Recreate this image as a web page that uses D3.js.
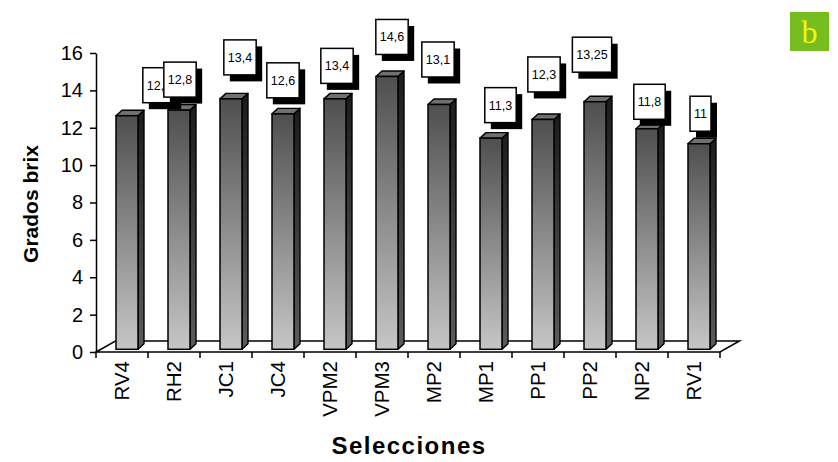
<!DOCTYPE html>
<html>
<head>
<meta charset="utf-8">
<script src="https://cdn.jsdelivr.net/npm/d3@7"></script>
<style>
  html, body { margin: 0; padding: 0; background: #fff; }
  svg { display: block; }
  text { font-family: "Liberation Sans", Arial, sans-serif; fill: #000; }
</style>
</head>
<body>
<svg id="chart" width="838" height="462"></svg>
<script>
// Grados brix por selección
const categories = ["RV4", "RH2", "JC1", "JC4", "VPM2", "VPM3", "MP2", "MP1", "PP1", "PP2", "NP2", "RV1"];
const brix = [12.5, 12.8, 13.4, 12.6, 13.4, 14.6, 13.1, 11.3, 12.3, 13.25, 11.8, 11];
const yTicks = [0, 2, 4, 6, 8, 10, 12, 14, 16];

// Hand placement of each value label: [shift right from bar centre, gap above bar top]
const labelNudge = [[32, 13], [1, 13], [9, 24], [0, 16], [2, 15.5], [5, 22], [-1, 27.5], [9.5, 15.5], [1, 27.5], [-3, 29.5], [2.5, 9.5], [1.5, 12.5]];

const svg = d3.select("#chart");

const x = d3.scaleBand().domain(categories).range([96, 720]).paddingInner(0).paddingOuter(0);
const y = d3.scaleLinear().domain([0, 16]).range([352, 53]);

// 3-D geometry
const floorDepth = { dx: 19.5, dy: -11 };   // floor front edge -> back edge
const barPlane = { dx: 4, dy: -2.7 };        // front face of the columns
const barDepth = { dx: 6, dy: -5.5 };        // column thickness
const barW = 22;

// gradients
const defs = svg.append("defs");
const gFront = defs.append("linearGradient").attr("id", "gFront").attr("x1", 0).attr("y1", 0).attr("x2", 0).attr("y2", 1);
gFront.append("stop").attr("offset", "0%").attr("stop-color", "#4f4f4f");
gFront.append("stop").attr("offset", "100%").attr("stop-color", "#c6c6c6");
const gSide = defs.append("linearGradient").attr("id", "gSide").attr("x1", 0).attr("y1", 0).attr("x2", 0).attr("y2", 1);
gSide.append("stop").attr("offset", "0%").attr("stop-color", "#1c1c1c");
gSide.append("stop").attr("offset", "100%").attr("stop-color", "#5c5c5c");

// floor
const fx0 = x.range()[0], fx1 = x.range()[1], fy = y(0);
svg.append("path")
  .attr("d", `M${fx0},${fy} L${fx0 + floorDepth.dx},${fy + floorDepth.dy} L${fx1 + floorDepth.dx},${fy + floorDepth.dy} L${fx1},${fy} Z`)
  .attr("fill", "#fff").attr("stroke", "#000").attr("stroke-width", 1.5).attr("stroke-linejoin", "miter");

// columns
const bars = svg.append("g").selectAll("g").data(categories).join("g");
bars.each(function (c, i) {
  const g = d3.select(this);
  const x0 = x(c) + (x.bandwidth() - barW) / 2 + 1 + barPlane.dx;
  const x1 = x0 + barW;
  const top = y(brix[i]) + barPlane.dy;
  const bot = y(0) + barPlane.dy;
  const ddx = barDepth.dx, ddy = barDepth.dy;
  g.append("path")
    .attr("d", `M${x1},${top} L${x1 + ddx},${top + ddy} L${x1 + ddx},${bot + ddy} L${x1},${bot} Z`)
    .attr("fill", "url(#gSide)").attr("stroke", "#000").attr("stroke-width", 1.4).attr("stroke-linejoin", "round");
  g.append("path")
    .attr("d", `M${x0},${top} L${x0 + ddx},${top + ddy} L${x1 + ddx},${top + ddy} L${x1},${top} Z`)
    .attr("fill", "#707070").attr("stroke", "#000").attr("stroke-width", 1.4).attr("stroke-linejoin", "round");
  g.append("rect")
    .attr("x", x0).attr("y", top).attr("width", barW).attr("height", bot - top)
    .attr("fill", "url(#gFront)").attr("stroke", "#000").attr("stroke-width", 1.5);
});

// value axis
const yAxis = d3.axisLeft(y).tickValues(yTicks).tickSize(6).tickSizeOuter(0).tickPadding(7).tickFormat(d3.format("d"));
const gy = svg.append("g").attr("transform", `translate(${fx0},0)`).call(yAxis);
gy.select(".domain").attr("stroke", "#000").attr("stroke-width", 1.5);
gy.selectAll(".tick line").attr("stroke", "#000").attr("stroke-width", 1.5);
gy.selectAll(".tick text").attr("font-size", 20).style("fill", "#000");

// category ticks along the floor's front edge
const bounds = categories.map(c => x(c)).concat([fx1]);
svg.append("g").selectAll("line").data(bounds).join("line")
  .attr("x1", d => d).attr("x2", d => d)
  .attr("y1", fy).attr("y2", fy + 6)
  .attr("stroke", "#000").attr("stroke-width", 1.5);

// category labels
svg.append("g").selectAll("text").data(categories).join("text")
  .attr("transform", c => `translate(${x(c) + x.bandwidth() / 2},361) rotate(-90)`)
  .attr("text-anchor", "end").attr("dy", "0.36em")
  .attr("font-size", 20.5)
  .text(c => c);

// value labels: white boxes with a solid drop shadow
const fmt = v => String(v).replace(".", ",");
const labels = svg.append("g");
categories.forEach((c, i) => {
  const x0 = x(c) + (x.bandwidth() - barW) / 2 + 1 + barPlane.dx;
  const cx = x0 + barW / 2 + labelNudge[i][0];
  const boxBottom = y(brix[i]) + barPlane.dy - labelNudge[i][1];
  const boxH = 35;
  const g = labels.append("g");
  const shadow = g.append("rect");
  const box = g.append("rect");
  const t = g.append("text")
    .attr("x", cx).attr("y", boxBottom - boxH / 2)
    .attr("text-anchor", "middle").attr("dy", "0.36em")
    .attr("font-size", 12.5)
    .text(fmt(brix[i]));
  const w = t.node().getComputedTextLength() + 8;
  shadow.attr("x", cx - w / 2 + 6).attr("y", boxBottom - boxH + 6.5).attr("width", w).attr("height", boxH).attr("fill", "#000");
  box.attr("x", cx - w / 2).attr("y", boxBottom - boxH).attr("width", w).attr("height", boxH)
    .attr("fill", "#fff").attr("stroke", "#000").attr("stroke-width", 1.5);
});

// axis titles
svg.append("text")
  .attr("transform", "translate(38,204) rotate(-90)")
  .attr("text-anchor", "middle").attr("font-weight", "bold").attr("font-size", 21)
  .text("Grados brix");
svg.append("text")
  .attr("x", 409).attr("y", 454)
  .attr("text-anchor", "middle").attr("font-weight", "bold").attr("font-size", 24)
  .attr("letter-spacing", "1.5px")
  .text("Selecciones");

// panel letter
svg.append("rect").attr("x", 790).attr("y", 12).attr("width", 39).attr("height", 39).attr("fill", "#77bd1f");
svg.append("text")
  .attr("x", 809.5).attr("y", 43)
  .attr("text-anchor", "middle")
  .attr("font-size", 32)
  .style("font-family", "'Liberation Serif', 'DejaVu Serif', serif")
  .style("fill", "#f4f40c")
  .text("b");
</script>
</body>
</html>
